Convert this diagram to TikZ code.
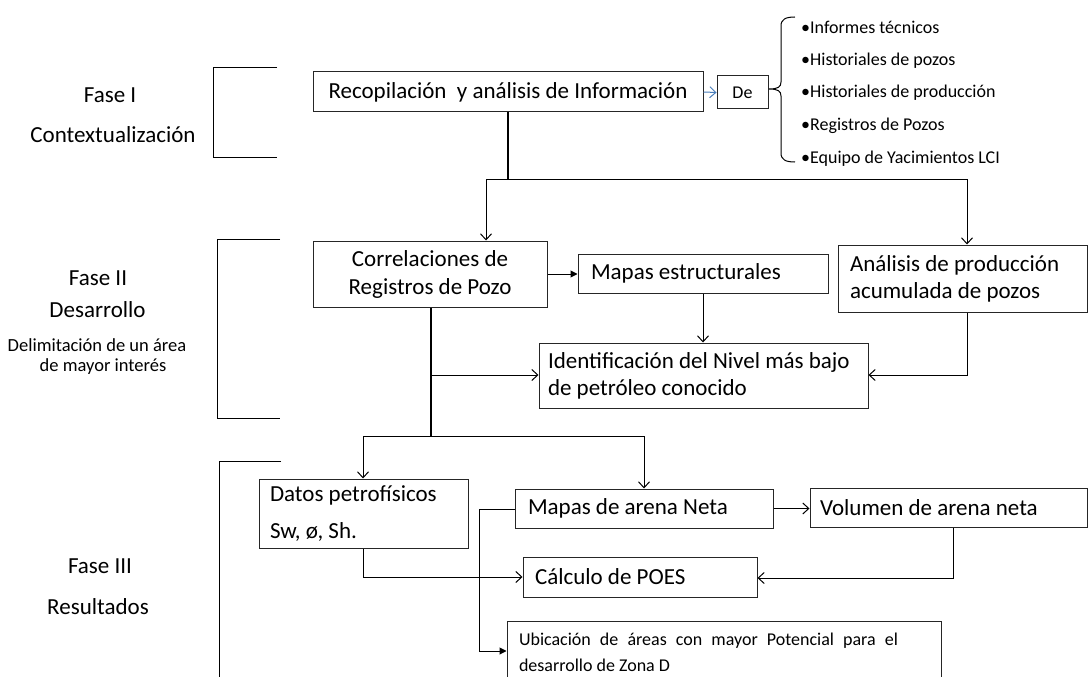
\documentclass[tikz,border=0pt]{standalone}
\usepackage{fontspec}
\setmainfont{Carlito}
\usetikzlibrary{arrows.meta}
\definecolor{offblue}{HTML}{4A7EBB}
\begin{document}
\begin{tikzpicture}[x=1pt,y=-1pt,
  bx/.style={draw=black!85, line width=1pt, inner sep=0pt, font=\fontsize{23}{28}\selectfont},
  bxl/.style={bx, align=left, execute at begin node={\spaceskip=0pt\xspaceskip=0pt\relax}},
  ln/.style={line width=1pt},
  arr/.style={ln, -{Straight Barb[length=6pt,width=11pt]}},
  farr/.style={ln, -{Triangle[length=7pt,width=7pt]}},
  lab/.style={inner sep=0pt, font=\fontsize{23}{28}\selectfont},
  labs/.style={inner sep=0pt, font=\fontsize{18.5}{22}\selectfont},
  item/.style={inner sep=0pt, anchor=west, font=\fontsize{18}{22}\selectfont}]
\clip (0,0) rectangle (1088,677);
\fill[white] (0,0) rectangle (1088,677);

% phase labels
\node[lab] (f1a) at (110,95) {Fase I};
\node[lab] (f1b) at (113,135) {Contextualización};
\node[lab] (f2a) at (98,278) {Fase II};
\node[lab] (f2b) at (97.5,310) {Desarrollo};
\node[labs] (f2c) at (97,345) {Delimitación de un área};
\node[labs] (f2d) at (103,367) {de mayor interés};
\node[lab] (f3a) at (100,566) {Fase III};
\node[lab] (f3b) at (98,607) {Resultados};

% brackets
\draw[ln] (277,68) -- (213,68) -- (213,157) -- (277,157);
\draw[ln] (280,239) -- (217,239) -- (217,418) -- (280,418);
\draw[ln] (281,461) -- (219,461) -- (219,690);

% boxes
\node[bx, minimum width=390pt, minimum height=40pt] (recop) at (508,92) {Recopilación\ \ y análisis de Información};
\node[bx, font=\fontsize{18}{20}\selectfont, minimum width=51pt, minimum height=33pt] (de) at (742.5,92.5) {De};
\node[bx, align=center, minimum width=234pt, minimum height=66pt] (corr) at (430,274) {Correlaciones de\\Registros de Pozo};
\node[bxl, text width=224pt, inner xsep=13pt, minimum height=39pt] (mest) at (703,273.5) {Mapas estructurales};
\node[bxl, font=\fontsize{23}{27}\selectfont, text width=225pt, inner xsep=12pt, minimum height=67pt] (anal) at (962.5,278.5) {Análisis de producción\\acumulada de pozos};
\node[bxl, font=\fontsize{23}{27}\selectfont, text width=311pt, inner xsep=9pt, minimum height=65pt] (ident) at (703.5,375.5) {Identificación del Nivel más bajo\\de petróleo conocido};
\node[bxl, font=\fontsize{23}{37}\selectfont, text width=187pt, inner xsep=11pt, minimum height=69pt] (datos) at (363.5,513.5) {Datos petrofísicos\\Sw, ø, Sh.};
\node[bxl, text width=232pt, inner xsep=13pt, minimum height=39pt] (marena) at (644,508.5) {Mapas de arena Neta};
\node[bxl, text width=257pt, inner xsep=10pt, minimum height=39pt] (vol) at (948.5,507.5) {Volumen de arena neta};
\node[bxl, text width=210pt, inner xsep=12pt, minimum height=40pt] (calc) at (640,577) {Cálculo de POES};
\node[bxl, font=\fontsize{18}{26}\selectfont, text width=410pt, inner xsep=12pt, minimum height=62pt] (ubic) at (724,652) {\makebox[379pt][s]{Ubicación de áreas con mayor Potencial para el}\\desarrollo de Zona D};

% list
\node[item] (i1) at (801,27) {•Informes técnicos};
\node[item] (i2) at (801,61) {•Historiales de pozos};
\node[item] (i3) at (801,93) {•Historiales de producción};
\node[item] (i4) at (801,126) {•Registros de Pozos};
\node[item] (i5) at (801,159) {•Equipo de Yacimientos LCI};

% brace
\draw[ln] (795,17) .. controls (786,17) and (781,19) .. (781,26) -- (781,82)
  .. controls (781,87) and (778,89) .. (769,89)
  .. controls (778,89) and (781,91) .. (781,96) -- (781,153)
  .. controls (781,160) and (786,162) .. (795,162);

% connectors
\draw[arr, draw=offblue] (recop.east) -- (de.west);
\coordinate (j1) at (508,179);
\coordinate (jL) at (486,179);
\coordinate (jR) at (967,179);
\draw[line width=1.6pt] (recop.south) -- (j1);
\draw[ln] (jL) -- (jR);
\draw[arr] (jL) -- (jL |- corr.north);
\draw[arr] (jR) -- (jR |- anal.north);
\draw[farr] (corr.east) -- (corr.east -| mest.west);
\draw[arr] (mest.south) -- (mest.south |- ident.north);
\coordinate (a1) at (967,375);
\draw[arr] (a1 |- anal.south) -- (a1) -- (a1 -| ident.east);
\coordinate (c1) at (431,436);
\coordinate (c2) at (431,375);
\draw[line width=1.3pt] (c1 |- corr.south) -- (c1);
\draw[arr] (c2) -- (c2 -| ident.west);
\coordinate (d1) at (363,436);
\coordinate (d2) at (644,436);
\draw[ln] (d1) -- (d2);
\draw[arr] (d1) -- (d1 |- datos.north);
\draw[arr] (d2) -- (d2 |- marena.north);
\coordinate (e1) at (363,577);
\draw[arr] (e1 |- datos.south) -- (e1) -- (e1 -| calc.west);
\coordinate (g1) at (479,509);
\coordinate (g2) at (479,651);
\draw[farr] (marena.west |- g1) -- (g1) -- (g2) -- (g2 -| ubic.west);
\draw[arr] (marena.east) -- (marena.east -| vol.west);
\coordinate (v1) at (953,578);
\draw[arr] (v1 |- vol.south) -- (v1) -- (v1 -| calc.east);
\end{tikzpicture}
\end{document}
